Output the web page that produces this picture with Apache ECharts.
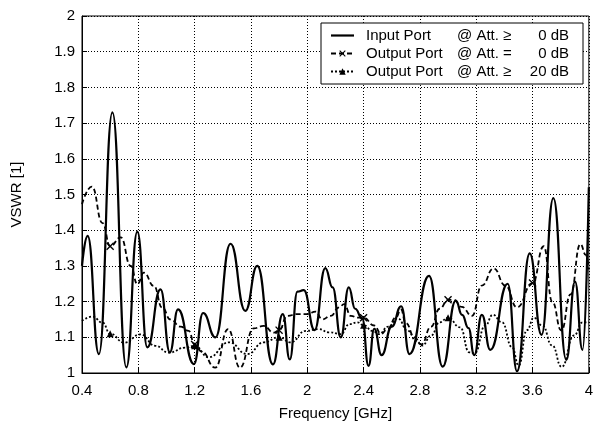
<!DOCTYPE html>
<html>
<head>
<meta charset="utf-8">
<script src="https://cdn.jsdelivr.net/npm/echarts@6/dist/echarts.min.js"></script>
<style>
html,body{margin:0;padding:0;background:#fff;}
#c{width:596px;height:427px;}
</style>
</head>
<body>
<div id="c"></div>
<script>
// Frequency ticks (GHz) and VSWR ticks
const xTicks = [0.4, 0.8, 1.2, 1.6, 2, 2.4, 2.8, 3.2, 3.6, 4];
const yTicks = [1, 1.1, 1.2, 1.3, 1.4, 1.5, 1.6, 1.7, 1.8, 1.9, 2];

// Frequencies where markers are drawn
const markerFreqs = [0.6, 1.2, 1.8, 2.4, 3.0, 3.6];

// Input Port @ Att. >= 0 dB  [GHz, VSWR]
const inputPort = [
  [0.40,1.30],[0.44,1.384],[0.52,1.053],[0.616,1.73],[0.715,1.016],[0.793,1.396],
  [0.864,1.072],[0.958,1.234],[1.024,1.058],[1.082,1.178],[1.195,1.025],[1.26,1.168],
  [1.348,1.10],[1.455,1.362],[1.56,1.174],[1.645,1.30],[1.756,1.024],[1.826,1.165],
  [1.876,1.038],[1.93,1.228],[1.975,1.232],[2.052,1.12],[2.128,1.294],[2.18,1.24],
  [2.238,1.10],[2.295,1.24],[2.34,1.18],[2.39,1.153],[2.435,1.02],[2.476,1.124],
  [2.528,1.05],[2.60,1.13],[2.667,1.187],[2.726,1.053],[2.865,1.272],[2.962,1.018],
  [3.055,1.203],[3.10,1.163],[3.145,1.126],[3.186,1.05],[3.24,1.163],[3.30,1.065],
  [3.424,1.25],[3.49,1.005],[3.58,1.335],[3.664,1.107],[3.748,1.49],[3.84,1.037],
  [3.902,1.256],[3.955,1.065],[4.0,1.52]
];

// Output Port @ Att. = 0 dB
const outputPort0 = [
  [0.40,1.473],[0.47,1.522],[0.546,1.42],[0.6,1.355],[0.675,1.38],[0.746,1.30],
  [0.793,1.249],[0.84,1.281],[0.91,1.244],[0.97,1.183],[1.028,1.15],[1.10,1.13],
  [1.158,1.118],[1.20,1.08],[1.25,1.06],[1.346,1.015],[1.438,1.123],[1.522,1.015],
  [1.62,1.125],[1.69,1.132],[1.763,1.113],[1.80,1.12],[1.858,1.16],[1.93,1.165],
  [2.00,1.165],[2.06,1.172],[2.107,1.15],[2.167,1.16],[2.226,1.184],[2.262,1.193],
  [2.31,1.16],[2.36,1.155],[2.40,1.155],[2.476,1.133],[2.524,1.11],[2.57,1.123],
  [2.63,1.156],[2.665,1.178],[2.70,1.14],[2.762,1.10],[2.81,1.08],[2.88,1.13],
  [2.94,1.18],[3.00,1.205],[3.04,1.205],[3.098,1.185],[3.17,1.16],[3.24,1.245],
  [3.324,1.293],[3.407,1.245],[3.49,1.184],[3.60,1.252],[3.68,1.355],[3.74,1.20],
  [3.805,1.119],[3.87,1.22],[3.94,1.361],[3.98,1.33],[4.0,1.29]
];

// Output Port @ Att. >= 20 dB
const outputPort20 = [
  [0.40,1.146],[0.475,1.158],[0.546,1.141],[0.6,1.11],[0.70,1.085],[0.816,1.108],
  [0.922,1.076],[1.016,1.057],[1.134,1.071],[1.20,1.076],[1.30,1.044],[1.444,1.086],
  [1.574,1.053],[1.692,1.086],[1.80,1.10],[1.882,1.086],[1.988,1.118],[2.083,1.123],
  [2.155,1.114],[2.238,1.109],[2.30,1.137],[2.357,1.142],[2.40,1.134],[2.464,1.118],
  [2.51,1.109],[2.575,1.13],[2.643,1.153],[2.714,1.118],[2.774,1.09],[2.817,1.077],
  [2.88,1.105],[2.94,1.142],[3.00,1.155],[3.086,1.128],[3.15,1.058],[3.19,1.056],
  [3.264,1.133],[3.318,1.163],[3.383,1.142],[3.455,1.072],[3.502,1.021],[3.56,1.12],
  [3.61,1.155],[3.67,1.133],[3.74,1.077],[3.807,1.017],[3.895,1.105],[3.955,1.142],
  [4.0,1.142]
];

const legendNames = [
  'Input Port',
  'Output Port 0',
  'Output Port 20'
];
const legendParts = {
  'Input Port':     ['Input Port',  '@ Att. \u2265', '0 dB'],
  'Output Port 0':  ['Output Port', '@ Att. =',      '0 dB'],
  'Output Port 20': ['Output Port', '@ Att. \u2265', '20 dB']
};

const FONT = "'Liberation Sans', Arial, Helvetica, sans-serif";
const crossPath = 'path://M0,1.2L1.2,0L5,3.8L8.8,0L10,1.2L6.2,5L10,8.8L8.8,10L5,6.2L1.2,10L0,8.8L3.8,5Z';

function withMarkers(arr) {
  return arr.map(function (p) {
    const isMarker = markerFreqs.some(function (m) { return Math.abs(m - p[0]) < 1e-6; });
    return isMarker ? { value: p } : { value: p, symbol: 'none' };
  });
}

const chart = echarts.init(document.getElementById('c'), null, { renderer: 'canvas' });
chart.setOption({
  animation: false,
  backgroundColor: '#fff',
  textStyle: { fontFamily: FONT },
  grid: {
    left: 82, right: 4, top: 16, bottom: 54,
    show: true, borderColor: '#000', borderWidth: 1, backgroundColor: 'transparent'
  },
  legend: {
    data: [
      { name: legendNames[0], icon: 'path://M0,0L23,0L23,2.2L0,2.2Z' },
      { name: legendNames[1] },
      { name: legendNames[2] }
    ],
    orient: 'vertical',
    left: 321, top: 23,
    padding: [5, 14, 5, 9],
    itemWidth: 23, itemHeight: 8, itemGap: 3,
    backgroundColor: '#fff',
    borderColor: '#000', borderWidth: 1,
    borderRadius: 0,
    inactiveColor: '#000',
    formatter: function (name) {
      const p = legendParts[name];
      return '{a|' + p[0] + '}{b|' + p[1] + '}{c|' + p[2] + '}';
    },
    textStyle: {
      fontFamily: FONT, fontSize: 15, color: '#000',
      rich: {
        a: { width: 91, fontSize: 15, fontFamily: FONT, color: '#000', padding: [0, 0, 0, 7], lineHeight: 14 },
        b: { width: 70, fontSize: 15, fontFamily: FONT, color: '#000', lineHeight: 14 },
        c: { width: 42, align: 'right', fontSize: 15, fontFamily: FONT, color: '#000', lineHeight: 14 }
      }
    }
  },
  xAxis: {
    type: 'value',
    min: 0.4, max: 4, interval: 0.4,
    name: 'Frequency [GHz]',
    nameLocation: 'middle',
    nameGap: 33,
    nameTextStyle: { fontFamily: FONT, fontSize: 15, color: '#000' },
    axisLine: { show: true, lineStyle: { color: '#000', width: 1 } },
    axisTick: { show: true, inside: true, length: 5, lineStyle: { color: '#000' } },
    axisLabel: {
      color: '#000', fontFamily: FONT, fontSize: 15, margin: 10,
      formatter: function (v) {
        const t = xTicks.find(function (x) { return Math.abs(x - v) < 1e-6; });
        return t === undefined ? '' : String(t);
      }
    },
    splitLine: { show: true, lineStyle: { color: '#000', width: 1, type: [1, 2] } }
  },
  yAxis: {
    type: 'value',
    min: 1, max: 2, interval: 0.1,
    name: 'VSWR [1]',
    nameLocation: 'middle',
    nameGap: 58,
    nameTextStyle: { fontFamily: FONT, fontSize: 15, color: '#000' },
    axisLine: { show: true, lineStyle: { color: '#000', width: 1 } },
    axisTick: { show: true, inside: true, length: 5, lineStyle: { color: '#000' } },
    axisLabel: {
      color: '#000', fontFamily: FONT, fontSize: 15, margin: 7,
      formatter: function (v) {
        const t = yTicks.find(function (y) { return Math.abs(y - v) < 1e-6; });
        return t === undefined ? '' : String(t);
      }
    },
    splitLine: { show: true, lineStyle: { color: '#000', width: 1, type: [1, 2] } }
  },
  series: [
    {
      name: 'Input Port', type: 'line', data: inputPort,
      smooth: 0.5, smoothMonotone: 'x', symbol: 'none',
      lineStyle: { color: '#000', width: 2.2, type: 'solid' },
      itemStyle: { color: '#000' }, z: 3
    },
    {
      name: 'Output Port 0', type: 'line', data: withMarkers(outputPort0),
      smooth: 0.5, smoothMonotone: 'x',
      symbol: crossPath, symbolSize: 8, showSymbol: true,
      lineStyle: { color: '#000', width: 1.8, type: [5, 3] },
      itemStyle: { color: '#000', borderWidth: 0 }, z: 2
    },
    {
      name: 'Output Port 20', type: 'line', data: withMarkers(outputPort20),
      smooth: 0.5, smoothMonotone: 'x',
      symbol: 'triangle', symbolSize: 7, showSymbol: true,
      lineStyle: { color: '#000', width: 1.8, type: [2, 2] },
      itemStyle: { color: '#000', borderWidth: 0 }, z: 2
    }
  ]
});
</script>
</body>
</html>
